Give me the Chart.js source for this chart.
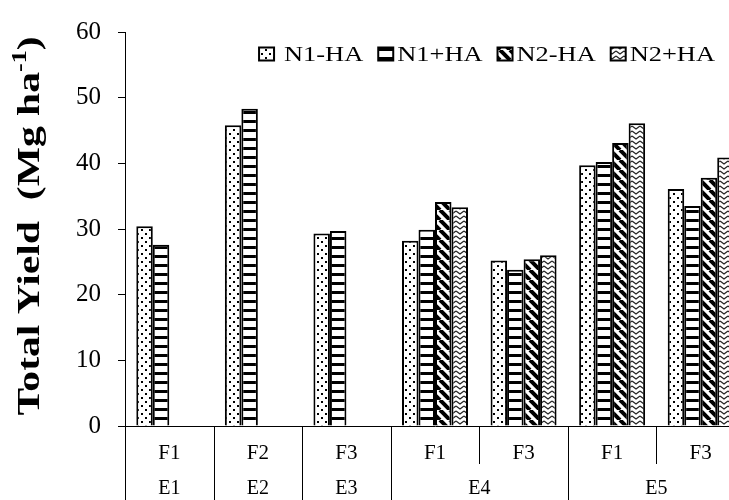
<!DOCTYPE html>
<html>
<head>
<meta charset="utf-8">
<script src="https://cdn.jsdelivr.net/npm/chart.js@4.4.1/dist/chart.umd.min.js"></script>
<style>
  body { margin: 0; width: 729px; height: 500px; overflow: hidden; background: #fff; }
</style>
</head>
<body>
<canvas id="yieldChart" width="745" height="500"></canvas>
<script>
// chart data
const subLabels = ['F1', 'F2', 'F3', 'F1', 'F3', 'F1', 'F3']
const groupLabels = ['E1', 'E2', 'E3', 'E4', 'E4', 'E5', 'E5']
const seriesNames = ['N1-HA', 'N1+HA', 'N2-HA', 'N2+HA']
const n1MinusHA = [30.4, 45.8, 29.3, 28.2, 25.2, 39.7, 36.1]
const n1PlusHA = [27.6, 48.3, 29.7, 29.9, 23.8, 40.2, 33.5]
const n2MinusHA = [null, null, null, 34.1, 25.4, 43.1, 37.8]
const n2PlusHA = [null, null, null, 33.3, 26.0, 46.1, 40.9]
const yTicks = [0, 10, 20, 30, 40, 50, 60]

const serif = '"Liberation Serif", "Times New Roman", serif'

const canvas = document.getElementById('yieldChart')
const ctx = canvas.getContext('2d')

// black & white fill patterns like the excel ones
const makePattern = (kind) => {
    const tile = document.createElement('canvas')
    const t = tile.getContext('2d')
    if (kind === 'dots') {
        tile.width = 8; tile.height = 8
        t.fillStyle = '#fff'; t.fillRect(0, 0, 8, 8)
        t.fillStyle = '#000'
        t.fillRect(1, 1, 2, 2)
        t.fillRect(5, 5, 2, 2)
    } else if (kind === 'hlines') {
        tile.width = 8; tile.height = 9
        t.fillStyle = '#fff'; t.fillRect(0, 0, 8, 9)
        t.fillStyle = '#000'
        t.fillRect(0, 3, 8, 3)
    } else if (kind === 'diag') {
        const s = 10
        tile.width = s; tile.height = s
        t.fillStyle = '#fff'; t.fillRect(0, 0, s, s)
        t.strokeStyle = '#000'
        t.lineWidth = 4
        for (const k of [-s, 0, s]) {
            t.beginPath()
            t.moveTo(k, 0)
            t.lineTo(k + s, s)
            t.stroke()
        }
    } else {
        tile.width = 8; tile.height = 5
        t.fillStyle = '#fff'; t.fillRect(0, 0, 8, 5)
        t.strokeStyle = '#222'
        t.lineWidth = 1.2
        t.beginPath()
        t.moveTo(0, 1)
        t.lineTo(4, 4)
        t.lineTo(8, 1)
        t.stroke()
    }
    return ctx.createPattern(tile, 'repeat')
}

const fills = [makePattern('dots'), makePattern('hlines'), makePattern('diag'), makePattern('zigzag')]
const values = [n1MinusHA, n1PlusHA, n2MinusHA, n2PlusHA]

// y axis title with superscript (text is a bit stretched along its length, like the original)
const yTitlePlugin = {
    id: 'yTitle',
    afterDraw(chart) {
        const c = chart.ctx
        const area = chart.chartArea
        const big = 'bold 32px ' + serif
        const small = 'bold 20px ' + serif
        const main = 'Total Yield  (Mg ha'
        const sup = '-1'
        const end = ')'
        const stretch = 1.3
        c.save()
        c.font = big
        const w1 = c.measureText(main).width
        const w3 = c.measureText(end).width
        c.font = small
        const w2 = c.measureText(sup).width
        const total = w1 + w2 + w3
        c.translate(31, (area.top + area.bottom) / 2 - 3)
        c.rotate(-Math.PI / 2)
        c.scale(stretch, 1)
        c.fillStyle = '#000'
        c.textBaseline = 'middle'
        c.textAlign = 'left'
        let x = -total / 2
        c.font = big
        c.fillText(main, x, 0)
        x += w1
        c.font = small
        c.fillText(sup, x, -10)
        x += w2
        c.font = big
        c.fillText(end, x, 0)
        c.restore()
    }
}

// legend drawn in a row inside the plot, top right
const legendPlugin = {
    id: 'rowLegend',
    afterDraw(chart) {
        const c = chart.ctx
        const area = chart.chartArea
        const boxW = 15, boxH = 13, itemGap = 15, stretch = 1.2
        c.save()
        c.font = '22px ' + serif
        const items = chart.data.datasets.map((ds, i) => ({
            text: ds.label,
            fill: ds.backgroundColor,
            gap: i === 0 ? 10 : 4,
            w: c.measureText(ds.label).width * stretch
        }))
        let total = 0
        items.forEach((it, i) => { total += boxW + it.gap + it.w + (i ? itemGap : 0) })
        let x = area.right - 30 - total
        const y = area.top + 22
        items.forEach((it) => {
            c.fillStyle = it.fill
            c.fillRect(x, y - boxH / 2, boxW, boxH)
            c.strokeStyle = '#000'
            c.lineWidth = 2
            c.strokeRect(x, y - boxH / 2, boxW, boxH)
            c.save()
            c.translate(x + boxW + it.gap, y + 1)
            c.scale(stretch, 1)
            c.fillStyle = '#000'
            c.textBaseline = 'middle'
            c.fillText(it.text, 0, 0)
            c.restore()
            x += boxW + it.gap + it.w + itemGap
        })
        c.restore()
    }
}

// second row of the category axis (E groups) and the separator lines
const groupAxisPlugin = {
    id: 'groupAxis',
    afterDraw(chart) {
        const c = chart.ctx
        const area = chart.chartArea
        const xs = chart.scales.x
        const bottom = chart.height
        const half = (xs.getPixelForValue(1) - xs.getPixelForValue(0)) / 2
        c.save()
        c.strokeStyle = '#000'
        c.lineWidth = 1
        const vline = (x, y1, y2) => {
            c.beginPath()
            c.moveTo(Math.round(x) + 0.5, y1)
            c.lineTo(Math.round(x) + 0.5, y2)
            c.stroke()
        }
        vline(area.left - 0.5, area.bottom, bottom)
        for (let i = 0; i < subLabels.length; i++) {
            const xr = xs.getPixelForValue(i) + half
            const inner = i + 1 < subLabels.length && groupLabels[i + 1] === groupLabels[i]
            vline(xr, area.bottom, inner ? area.bottom + 38 : bottom)
        }
        c.fillStyle = '#000'
        c.font = '20px ' + serif
        c.textAlign = 'center'
        c.textBaseline = 'middle'
        let start = 0
        for (let i = 1; i <= groupLabels.length; i++) {
            if (i === groupLabels.length || groupLabels[i] !== groupLabels[start]) {
                const mid = (xs.getPixelForValue(start) + xs.getPixelForValue(i - 1)) / 2
                c.fillText(groupLabels[start], mid, area.bottom + 63)
                start = i
            }
        }
        c.restore()
    }
}

new Chart(canvas, {
    type: 'bar',
    data: {
        labels: subLabels,
        datasets: seriesNames.map((name, i) => ({
            label: name,
            data: values[i],
            backgroundColor: fills[i],
            borderColor: '#000',
            borderWidth: 2,
            categoryPercentage: 0.745,
            barPercentage: 1
        }))
    },
    options: {
        responsive: false,
        animation: false,
        devicePixelRatio: 1,
        layout: { padding: { top: 23, right: 0, left: 0, bottom: 0 } },
        plugins: {
            legend: { display: false },
            tooltip: { enabled: false }
        },
        scales: {
            x: {
                grid: { display: false, drawTicks: false },
                border: { display: true, color: '#000', width: 1 },
                ticks: {
                    color: '#000',
                    font: { family: serif, size: 21 },
                    padding: 15,
                    maxRotation: 0,
                    autoSkip: false
                },
                afterFit(scale) { scale.height = 74 }
            },
            y: {
                min: 0,
                max: 60,
                afterBuildTicks(scale) { scale.ticks = yTicks.map(v => ({ value: v })) },
                grid: { drawOnChartArea: false, drawTicks: true, tickLength: 7, color: '#000' },
                border: { display: true, color: '#000', width: 1 },
                ticks: {
                    color: '#000',
                    font: { family: serif, size: 25 },
                    padding: 17
                },
                afterFit(scale) { scale.width = 125 }
            }
        }
    },
    plugins: [yTitlePlugin, legendPlugin, groupAxisPlugin]
})
</script>
</body>
</html>
